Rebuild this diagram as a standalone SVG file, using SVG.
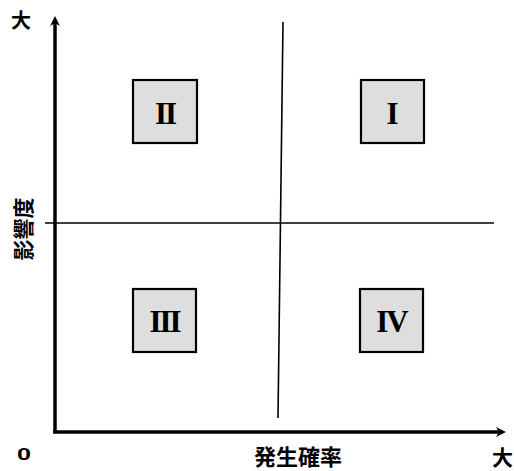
<svg xmlns="http://www.w3.org/2000/svg" width="514" height="471" viewBox="0 0 514 471">
<style>
.ax{stroke:#000;stroke-width:3.5;fill:none}
.dv{stroke:#000;stroke-width:1.6;fill:none}
.box{fill:#dedede;stroke:#000;stroke-width:2.2}
.num{font-family:"Liberation Serif",serif;font-weight:bold;font-size:31px;text-anchor:middle;fill:#000}
.lbl{font-family:"Liberation Sans","Noto Sans CJK JP",sans-serif;font-weight:bold;fill:#000}
</style>
<defs>
<marker id="ah" markerWidth="10" markerHeight="10" refX="6" refY="5" orient="auto" markerUnits="userSpaceOnUse">
<path d="M0,0 L10,5 L0,10 L3,5 Z" fill="#000"/>
</marker>
</defs>
<rect width="514" height="471" fill="#fff"/>
<g id="connectors">
<path class="ax" d="M55,432 L55,20" marker-end="url(#ah)"/>
<path class="ax" d="M53,432 L502,432" marker-end="url(#ah)"/>
<path class="dv" d="M283,22 L278,418"/>
<path class="dv" d="M45,223 L494,223"/>
</g>
<g id="node-II">
<rect class="box" x="133" y="80" width="64" height="63"/>
<text class="num" x="165" y="124" letter-spacing="-2">II</text>
</g>
<g id="node-I">
<rect class="box" x="361" y="80" width="63" height="63"/>
<text class="num" x="392.5" y="124">I</text>
</g>
<g id="node-III">
<rect class="box" x="133" y="289" width="63" height="63"/>
<text class="num" x="164.5" y="332" letter-spacing="-2">III</text>
</g>
<g id="node-IV">
<rect class="box" x="360" y="289" width="63" height="63"/>
<text class="num" x="391.5" y="332" letter-spacing="-2">IV</text>
</g>
<g id="labels">
<text class="lbl" x="21" y="28" font-size="20" text-anchor="middle">大</text>
<text class="lbl" x="17" y="460" font-size="17" textLength="14" lengthAdjust="spacingAndGlyphs">0</text>
<text class="lbl" x="298" y="465" font-size="22" text-anchor="middle">発生確率</text>
<text class="lbl" x="492" y="465" font-size="21">大</text>
<text class="lbl" font-size="21" text-anchor="middle" transform="translate(31,229) rotate(-90)">影響度</text>
</g>
</svg>
